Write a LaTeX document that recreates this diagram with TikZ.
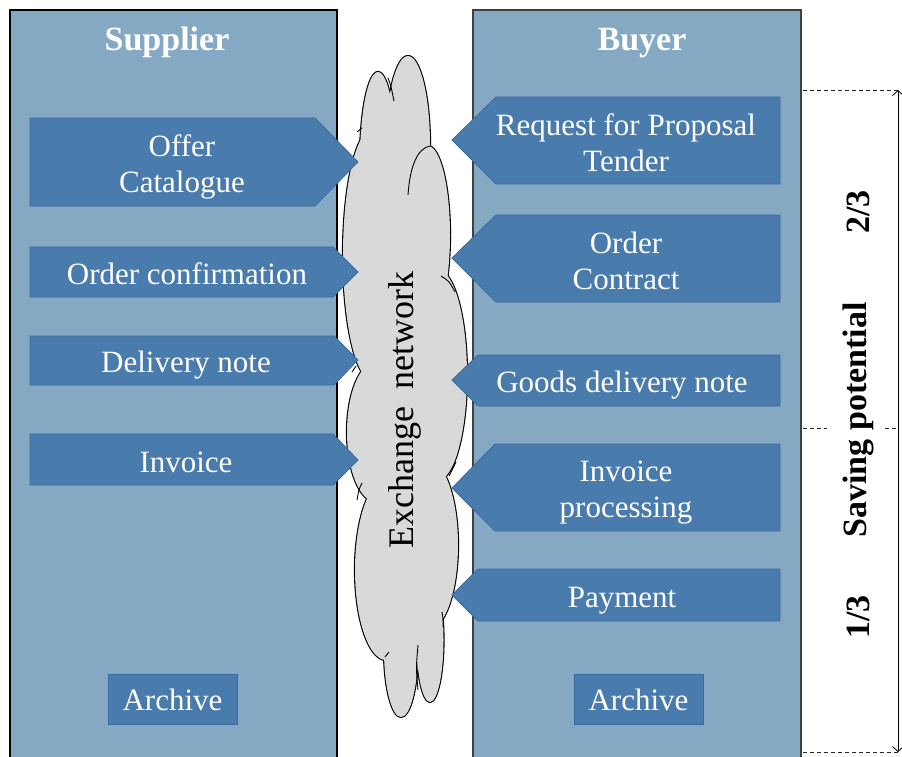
\documentclass[tikz,border=0pt]{standalone}
\usepackage{fontspec}
\setmainfont{Liberation Serif}
\usetikzlibrary{arrows.meta}
\definecolor{panel}{HTML}{86A9C3}
\definecolor{arrowfill}{HTML}{4A7BAD}
\definecolor{arrowline}{HTML}{3A6BA3}
\definecolor{cloudgray}{HTML}{D9D9D9}
\begin{document}
\begin{tikzpicture}[x=1pt,y=-1pt,
  panelbox/.style={fill=panel,draw=#1,line width=1.4pt},
  arrowshape/.style={fill=arrowfill,draw=arrowline,line width=0.8pt},
  lbl/.style={text=white,font=\fontsize{31}{36}\selectfont,align=center,inner sep=0pt},
  lblbase/.style={lbl,anchor=base},
  titletext/.style={text=white,font=\fontsize{34}{40}\selectfont\bfseries,inner sep=0pt,anchor=base},
  sidetext/.style={text=black,font=\fontsize{34}{40}\selectfont\bfseries,inner sep=0pt,rotate=90},
  dashline/.style={draw=black!85,line width=0.9pt,dash pattern=on 4pt off 3pt},
  innerline/.style={draw=black,line width=0.9pt}]
\useasboundingbox (0,0) rectangle (902,757);
\begin{scope}
\clip (0,0) rectangle (902,757);
% panels
\path[panelbox=black] (10,770) -- (10,10) -- (337,10) -- (337,770);
\path[panelbox=black!75] (473,770) -- (473,10) -- (801,10) -- (801,770);
\end{scope}
\node[titletext] (supplier) at (167,51) {Supplier};
\node[titletext] (buyer) at (642,51) {Buyer};

% cloud
\foreach \cx/\cy/\rx/\ry in {408/145/22/89, 378/160/18/88, 372/255/29/125, 428/235/22/89,
  438/375/29/105, 376/432/29/70, 386/570/31/90, 428/545/30/85, 430/640/13.5/62,
  401/650/17/67}
  \draw[line width=2.2pt] (\cx,\cy) ellipse [x radius=\rx, y radius=\ry];
\foreach \cx/\cy/\rx/\ry in {408/145/22/89, 378/160/18/88, 372/255/29/125, 428/235/22/89,
  438/375/29/105, 376/432/29/70, 386/570/31/90, 428/545/30/85, 430/640/13.5/62,
  401/650/17/67, 405/400/35/260}
  \fill[cloudgray] (\cx,\cy) ellipse [x radius=\rx, y radius=\ry];
\draw[innerline] (388,78) .. controls (391,86) .. (394,101);
\draw[innerline] (408,195) .. controls (410,165) and (418,148) .. (430,146);
\draw[innerline] (441,276) .. controls (449,281) .. (455,292);
\draw[innerline] (449,476) .. controls (452,470) .. (456,462);
\draw[innerline] (442,612) .. controls (443,618) .. (443,627);
\draw[innerline] (418,645) .. controls (416,668) .. (418,690);
\draw[innerline] (385,657) -- (389,652);
\draw[innerline] (362,483) .. controls (359,489) .. (357,500);
\draw[innerline] (352,372) -- (356,366);
\draw[innerline] (357,132) -- (362,128);
\node[rotate=90,font=\fontsize{36}{40}\selectfont,inner sep=0pt] (net) at (405,410) {Exchange\hspace{0.25em} network};

% supplier arrows
\path[arrowshape] (30,118) -- (315,118) -- (358,162) -- (315,206) -- (30,206) -- cycle;
\node[lbl] (offer) at (182,167) {Offer\\Catalogue};
\path[arrowshape] (30,247) -- (333,247) -- (358,272) -- (333,297) -- (30,297) -- cycle;
\node[lblbase] (oconf) at (187,284) {Order confirmation};
\path[arrowshape] (30,336) -- (334,336) -- (358,360) -- (334,385) -- (30,385) -- cycle;
\node[lblbase] (dnote) at (186,372) {Delivery note};
\path[arrowshape] (30,434) -- (333,434) -- (358,460) -- (333,485) -- (30,485) -- cycle;
\node[lblbase] (sinv) at (186,472) {Invoice};

% buyer arrows
\path[arrowshape] (780,97) -- (496,97) -- (452,140) -- (496,184) -- (780,184) -- cycle;
\node[lbl] (rfp) at (626,143) {Request for Proposal\\Tender};
\path[arrowshape] (780,215) -- (496,215) -- (452,258) -- (496,302) -- (780,302) -- cycle;
\node[lbl] (order) at (626,261) {Order\\Contract};
\path[arrowshape] (780,355) -- (478,355) -- (452,380) -- (478,406) -- (780,406) -- cycle;
\node[lblbase] (gdn) at (622,392) {Goods delivery note};
\path[arrowshape] (780,444) -- (495,444) -- (452,488) -- (495,531) -- (780,531) -- cycle;
\node[lbl] (invp) at (626,493) {Invoice\\processing};
\path[arrowshape] (780,569) -- (478,569) -- (452,595) -- (478,621) -- (780,621) -- cycle;
\node[lblbase] (pay) at (622,607) {Payment};

% archives
\path[arrowshape] (108,674) rectangle (237,724);
\node[lblbase] (sarch) at (172.5,710) {Archive};
\path[arrowshape] (574,674) rectangle (703,724);
\node[lblbase] (barch) at (638.5,710) {Archive};

% saving potential scale
\coordinate (ttop) at (898,90);
\coordinate (tbot) at (898,752);
\draw[dashline] (803,90) -- (ttop);
\draw[dashline] (803,752) -- (tbot);
\draw[dashline] (803,428) -- (827,428);
\draw[dashline] (885,428) -- (898,428);
\draw[line width=0.8pt,{Straight Barb[length=5pt,width=11pt]}-{Straight Barb[length=5pt,width=11pt]}] (ttop) -- (tbot);
\node[sidetext] (saving) at (858,420) {Saving potential};
\node[sidetext] (twothirds) at (858,212) {2/3};
\node[sidetext] (onethird) at (858,617) {1/3};
\end{tikzpicture}
\end{document}
